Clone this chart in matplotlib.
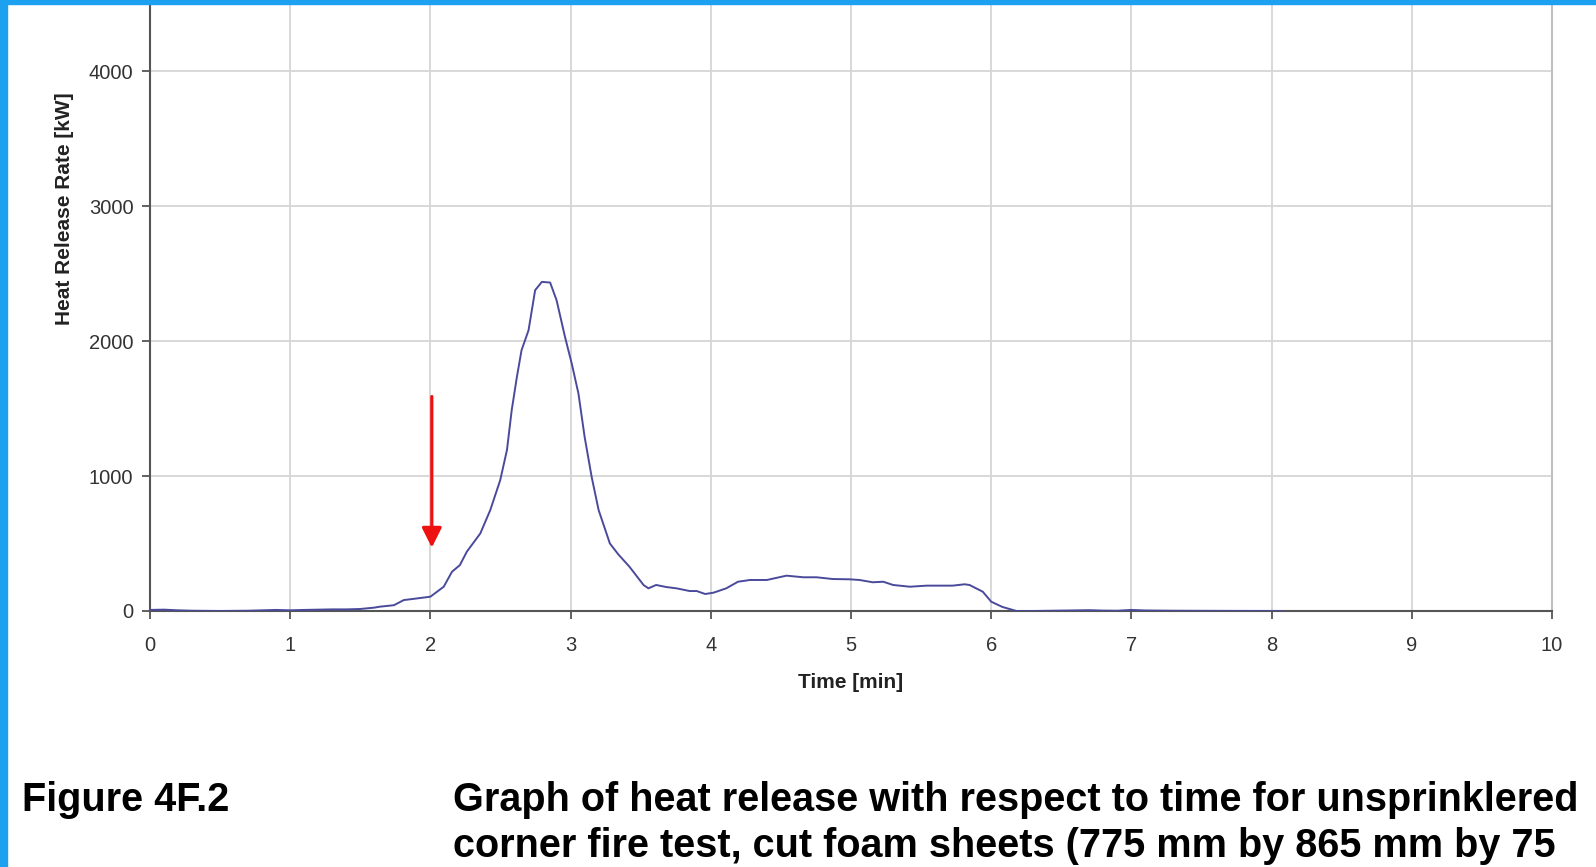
import matplotlib.pyplot as plt
from matplotlib.patches import Rectangle

plt.rcParams['font.family'] = ['Liberation Sans', 'DejaVu Sans']

# heat release rate
time_min = [0, 0.1, 0.2, 0.3, 0.5, 0.7, 0.8, 0.9, 1.0, 1.1,
            1.2, 1.3, 1.4, 1.5, 1.6, 1.64, 1.74, 1.81, 1.88, 2.0,
            2.095, 2.154, 2.21, 2.26, 2.356, 2.427, 2.498, 2.546, 2.58, 2.617,
            2.65, 2.70, 2.747, 2.795, 2.854, 2.90, 2.96, 3.008, 3.056, 3.10,
            3.15, 3.20, 3.28, 3.34, 3.42, 3.52, 3.555, 3.61, 3.68, 3.755,
            3.85, 3.90, 3.96, 4.02, 4.11, 4.194, 4.28, 4.40, 4.54, 4.66,
            4.755, 4.87, 4.99, 5.06, 5.155, 5.23, 5.30, 5.42, 5.54, 5.725,
            5.81, 5.845, 5.94, 6.0, 6.08, 6.18, 6.3, 6.5, 6.7, 6.8,
            6.9, 7.0, 7.1, 7.3, 7.6, 8.08]
hrr_kw = [8, 10, 5, 2, 0, 2, 5, 8, 5, 8,
          10, 12, 12, 15, 25, 32, 43, 81, 90, 106,
          180, 291, 340, 440, 575, 748, 970, 1193, 1489, 1736,
          1933, 2081, 2378, 2440, 2435, 2304, 2032, 1835, 1612, 1291,
          995, 748, 501, 420, 328, 193, 168, 193, 178, 168,
          148, 148, 126, 136, 168, 217, 230, 230, 262, 250,
          250, 237, 235, 230, 213, 217, 193, 180, 188, 188,
          198, 193, 143, 69, 30, 0, 0, 3, 6, 3,
          2, 8, 4, 2, 1, 0]

x_ticks = list(range(0, 11))
y_ticks = [0, 1000, 2000, 3000, 4000]

arrow_time = 2.01
arrow_from = 1590
arrow_to = 470

fig = plt.figure(figsize=(15.96, 8.67), dpi=100)
ax = fig.add_axes([150 / 1596, 1 - 611 / 867, 1402 / 1596, 607 / 867])

ax.plot(time_min, hrr_kw, color='#4a4a9c', lw=1.4, zorder=3)

ax.annotate('', xy=(arrow_time, arrow_to), xytext=(arrow_time, arrow_from),
            arrowprops=dict(arrowstyle='-|>,head_width=0.3,head_length=0.6',
                            color='#ee1111', lw=2.3, mutation_scale=20,
                            shrinkA=0, shrinkB=0), zorder=4)

ax.set_xlim(0, 10)
ax.set_ylim(0, 4500)
ax.set_xticks(x_ticks)
ax.set_yticks(y_ticks)
ax.grid(True, color='#d6d6d6', lw=1.3)
ax.set_axisbelow(True)

ax.spines['top'].set_visible(False)
ax.spines['right'].set_color('#c0c0c0')
ax.spines['right'].set_linewidth(1.5)
for side in ['left', 'bottom']:
    ax.spines[side].set_color('#555555')
    ax.spines[side].set_linewidth(1.5)
ax.tick_params(colors='#555555', labelcolor='#333333', labelsize=14.5,
               length=6, width=1.3)
ax.tick_params(axis='x', pad=12)
ax.tick_params(axis='y', pad=6)

fig.text(64 / 1596, 1 - 209 / 867, 'Heat Release Rate [kW]', rotation=90,
         ha='center', va='center', fontsize=15, fontweight='bold', color='#222222')
fig.text(851 / 1596, 1 - 683 / 867, 'Time [min]', ha='center', va='center',
         fontsize=15, fontweight='bold', color='#222222')

fig.text(22 / 1596, 1 - 800 / 867, 'Figure 4F.2', ha='left', va='center',
         fontsize=28.5, fontweight='bold', color='black')
fig.text(453 / 1596, 1 - 800 / 867,
         'Graph of heat release with respect to time for unsprinklered',
         ha='left', va='center', fontsize=28.5, fontweight='bold', color='black')
fig.text(453 / 1596, 1 - 846 / 867,
         'corner fire test, cut foam sheets (775 mm by 865 mm by 75',
         ha='left', va='center', fontsize=28.5, fontweight='bold', color='black')

# blue frame at the left and top edge
fig.add_artist(Rectangle((0, 0), 7 / 1596, 1, transform=fig.transFigure,
                         color='#1ba1ef', zorder=10))
fig.add_artist(Rectangle((0, 1 - 4 / 867), 1, 4 / 867, transform=fig.transFigure,
                         color='#1ba1ef', zorder=10))

fig.savefig('out.png', dpi=100)
